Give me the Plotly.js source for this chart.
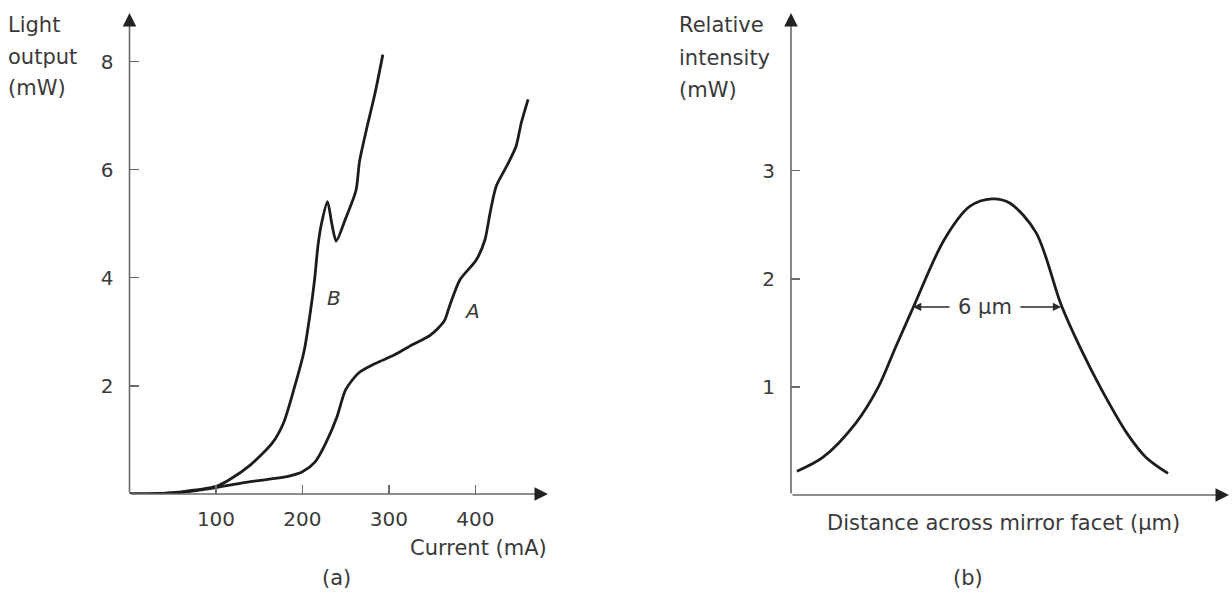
<!DOCTYPE html>
<html>
<head>
<meta charset="utf-8">
<script src="https://cdn.plot.ly/plotly-3.0.1.min.js"></script>
<style>html,body{margin:0;padding:0;background:#fff;}#chart{width:1232px;height:596px;}</style>
</head>
<body>
<div id="chart"></div>
<script>
// ---- Panel (a): light output vs current ----
const currentA = [0, 30, 60, 100, 140, 182, 200, 215, 227, 240, 250, 265, 285, 306, 327, 348, 364, 370, 382, 401, 411, 417, 424, 436, 447, 453, 461];
const outputA  = [0, 0.005, 0.03, 0.12, 0.23, 0.32, 0.41, 0.6, 0.94, 1.43, 1.93, 2.24, 2.42, 2.57, 2.76, 2.94, 3.2, 3.47, 3.96, 4.33, 4.7, 5.2, 5.69, 6.06, 6.43, 6.86, 7.3];
const currentB = [0, 30, 60, 100, 115, 140, 165, 178, 190, 202, 209, 214, 218, 222, 229, 234, 239, 250, 262, 266, 274, 284, 293];
const outputB  = [0, 0.005, 0.04, 0.14, 0.26, 0.54, 0.94, 1.31, 1.93, 2.65, 3.35, 3.96, 4.6, 5.0, 5.41, 5.0, 4.68, 5.1, 5.62, 6.15, 6.74, 7.42, 8.13];
const tickA = [100, 200, 300, 400];
const tickLabelA = ['100', '200', '300', '400'];
const ytickA = [2, 4, 6, 8];

// ---- Panel (b): relative intensity across mirror facet ----
const distance  = [-7.9, -6.84, -5.5, -4.6, -3.9, -3.2, -1.94, -0.9, 0, 0.73, 1.78, 2.8, 3.56, 4.45, 5.47, 6.23, 7.13];
const intensity = [0.22, 0.35, 0.67, 1.0, 1.37, 1.73, 2.36, 2.67, 2.74, 2.70, 2.43, 1.76, 1.37, 0.97, 0.57, 0.35, 0.2];
const ytickB = [1, 2, 3];
const fwhmLeft = -3.2, fwhmRight = 2.8, fwhmLevel = 1.74;
const fwhmLabel = '6 μm';

const W = 1232, H = 596;
const FONT = 'DejaVu Sans';
const TXT = '#3a3a3a';
const AX = '#6a6a6a';
const HEAD = '#222222';
const CURVE = '#1c1c1c';

const xRangeA = [0, 484];
const yRangeA = [0, 8.9];
const xRangeB = [-8.14, 9.6];
const yRangeB = [0, 4.46];

const traces = [
  {x: currentA, y: outputA, type: 'scatter', mode: 'lines', line: {color: CURVE, width: 2.8, shape: 'spline', smoothing: 0.7}, xaxis: 'x', yaxis: 'y', cliponaxis: false, hoverinfo: 'skip'},
  {x: currentB, y: outputB, type: 'scatter', mode: 'lines', line: {color: CURVE, width: 2.8, shape: 'spline', smoothing: 0.7}, xaxis: 'x', yaxis: 'y', cliponaxis: false, hoverinfo: 'skip'},
  {x: distance, y: intensity, type: 'scatter', mode: 'lines', line: {color: CURVE, width: 2.8, shape: 'spline', smoothing: 0.9}, xaxis: 'x2', yaxis: 'y2', cliponaxis: false, hoverinfo: 'skip'}
];

function axisBase(extra) {
  return Object.assign({
    showgrid: false, zeroline: false, showline: false,
    ticks: 'inside', ticklen: 9, tickwidth: 1.3, tickcolor: AX,
    tickfont: {family: FONT, size: 20, color: TXT},
    fixedrange: true
  }, extra);
}

function ann(xref, yref, x0, y0, x1, y1, head, size, width, color) {
  return {xref: xref, yref: yref, axref: xref, ayref: yref, x: x1, y: y1, ax: x0, ay: y0,
    text: '', showarrow: true, arrowhead: head, arrowsize: size, arrowwidth: width, arrowcolor: color};
}
// axis line (gray) plus a dark arrowhead at its end, both from the axis ranges
function axisWithHead(xref, yref, x0, y0, x1, y1) {
  const f = 0.985;
  return [
    ann(xref, yref, x0, y0, x0 + (x1 - x0) * f, y0 + (y1 - y0) * f, 0, 1, 1.6, AX),
    ann(xref, yref, x0 + (x1 - x0) * 0.97, y0 + (y1 - y0) * 0.97, x1, y1, 2, 1.5, 1.8, HEAD)
  ];
}
function label(text, x, y, opts) {
  return Object.assign({text: text, x: x, y: y, xref: 'paper', yref: 'paper', showarrow: false,
    font: {family: FONT, size: 21, color: TXT}}, opts || {});
}
function linesAt(lines, xpx, ypxs) {
  return lines.map((t, i) => label(t, xpx / W, (H - ypxs[i]) / H, {xanchor: 'left', yanchor: 'middle'}));
}

const layout = {
  width: W, height: H,
  margin: {l: 0, r: 0, t: 0, b: 0},
  paper_bgcolor: '#ffffff', plot_bgcolor: 'rgba(0,0,0,0)',
  showlegend: false,
  xaxis: axisBase({domain: [129.5 / W, 548 / W], range: xRangeA, tickvals: tickA, ticktext: tickLabelA, ticklabelstandoff: 11, anchor: 'y'}),
  yaxis: axisBase({domain: [(H - 494) / H, (H - 13) / H], range: yRangeA, tickvals: ytickA, ticklabelstandoff: 15, anchor: 'x'}),
  xaxis2: axisBase({domain: [791 / W, 1229 / W], range: xRangeB, showticklabels: false, ticks: '', anchor: 'y2'}),
  yaxis2: axisBase({domain: [(H - 495) / H, (H - 13) / H], range: yRangeB, tickvals: ytickB, ticklabelstandoff: 15, anchor: 'x2'}),
  annotations: [].concat(
    axisWithHead('x', 'y', xRangeA[0], 0, xRangeA[1], 0),
    axisWithHead('x', 'y', 0, yRangeA[0], 0, yRangeA[1]),
    axisWithHead('x2', 'y2', xRangeB[0], 0, xRangeB[1], 0),
    axisWithHead('x2', 'y2', xRangeB[0], yRangeB[0], xRangeB[0], yRangeB[1]),
    [
      {xref: 'x', yref: 'y', x: 236, y: 3.63, text: '<i>B</i>', showarrow: false, font: {family: FONT, size: 20, color: TXT}},
      {xref: 'x', yref: 'y', x: 396, y: 3.39, text: '<i>A</i>', showarrow: false, font: {family: FONT, size: 20, color: TXT}},
      ann('x2', 'y2', -1.66, fwhmLevel, fwhmLeft, fwhmLevel, 2, 1.1, 1.5, '#2a2a2a'),
      ann('x2', 'y2', 1.09, fwhmLevel, fwhmRight, fwhmLevel, 2, 1.1, 1.5, '#2a2a2a'),
      {xref: 'x2', yref: 'y2', x: -0.28, y: fwhmLevel, text: fwhmLabel, showarrow: false, font: {family: FONT, size: 21, color: TXT}},
      label('Current (mA)', 549 / W, (H - 548) / H, {xanchor: 'right', yanchor: 'middle'}),
      label('(a)', 336 / W, (H - 578) / H, {xanchor: 'center', yanchor: 'middle'}),
      label('Distance across mirror facet (μm)', 1003 / W, (H - 523) / H, {xanchor: 'center', yanchor: 'middle'}),
      label('(b)', 968 / W, (H - 578) / H, {xanchor: 'center', yanchor: 'middle'})
    ],
    linesAt(['Light', 'output', '(mW)'], 6, [25, 57, 88]),
    linesAt(['Relative', 'intensity', '(mW)'], 677, [25, 58, 90])
  )
};

Plotly.newPlot('chart', traces, layout, {displayModeBar: false, staticPlot: true});
</script>
</body>
</html>
